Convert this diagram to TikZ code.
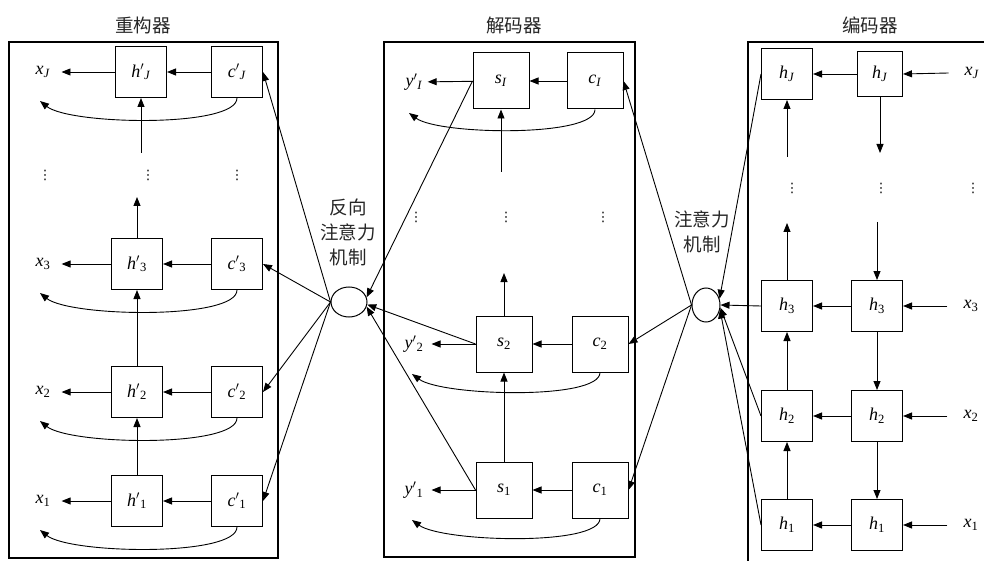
\documentclass[tikz,border=0pt]{standalone}
\usepackage{fontspec}
\setmainfont{Liberation Serif}
\newfontfamily\cjk{Noto Sans CJK SC}
\newfontfamily\dejavu{DejaVu Sans}
\usetikzlibrary{arrows.meta,shapes.geometric,calc}
\newcommand\mylab[2]{\textit{#1}\textsubscript{#2}}
\newcommand\mylabp[2]{\textit{#1}$'$\textsubscript{#2}}
\begin{document}
\begin{tikzpicture}[x=1pt,y=-1pt,
  every node/.style={font=\fontsize{18}{24}\selectfont},
  box/.style={draw, line width=1pt, minimum size=51pt, inner sep=0pt},
  bigbox/.style={box, minimum size=56pt},
  smallbox/.style={box, minimum size=45pt},
  lbl/.style={inner ysep=0pt, inner xsep=#1},
  arr/.style={line width=0.9pt, -{Triangle[length=9pt,width=7pt]}},
  panel/.style={line width=1.2pt},
  circ/.style={draw, ellipse, line width=1pt, inner sep=0pt},
  dots/.style={font=\dejavu\fontsize{13}{13}\selectfont, inner sep=0pt},
  ttl/.style={font=\cjk\fontsize{18.5}{25}\selectfont, text=black!85},
]
\useasboundingbox (0,0) rectangle (984,561);
% panels
\draw[panel] (9,42) rectangle (278,558);
\draw[panel] (384,42) rectangle (635,557);
\draw[panel] (748,565) -- (748,42) -- (990,42);
% titles
\node[ttl] (T1) at (143,25) {重构器};
\node[ttl] (T2) at (514,25) {解码器};
\node[ttl] (T3) at (870,25) {编码器};
\node[ttl, align=center] (A1) at (348,232) {反向\\注意力\\机制};
\node[ttl, align=center] (A2) at (702,232) {注意力\\机制};

% ---------- reconstructor ----------
\node[box] (hpJ) at (141,72) {\mylabp{h}{\textit{J}}};
\node[box] (cpJ) at (237,72) {\mylabp{c}{\textit{J}}};
\node[box] (hp3) at (137,264) {\mylabp{h}{3}};
\node[box] (cp3) at (237,264) {\mylabp{c}{3}};
\node[box] (hp2) at (137,392) {\mylabp{h}{2}};
\node[box] (cp2) at (237,392) {\mylabp{c}{2}};
\node[box] (hp1) at (137,501) {\mylabp{h}{1}};
\node[box] (cp1) at (237,501) {\mylabp{c}{1}};
\node[lbl=11pt] (xJ) at (43,72) {\mylab{x}{\textit{J}}};
\node[lbl=11pt] (x3) at (43,264) {\mylab{x}{3}};
\node[lbl=11pt] (x2) at (43,392) {\mylab{x}{2}};
\node[lbl=11pt] (x1) at (43,501) {\mylab{x}{1}};
\foreach \r in {J,3,2,1}{
  \draw[arr] (cp\r) -- (hp\r);
  \draw[arr] (hp\r) -- (x\r);
}
\draw[arr] (hp1) -- (hp2);
\draw[arr] (hp2) -- (hp3);
\coordinate (hp3t) at (137,197);
\draw[arr] (hp3) -- (hp3t);
\coordinate (hpJb) at (141,153);
\draw[arr] (hpJb) -- (hpJ);
\node[dots] (dL1) at (45,175) {⋮};
\node[dots] (dL2) at (148,175) {⋮};
\node[dots] (dL3) at (237,175) {⋮};
\coordinate (tJ) at (40,101);
\coordinate (t3) at (40,293);
\coordinate (t2) at (40,421);
\coordinate (t1) at (40,530);
\foreach \r in {J,3,2,1}{
  \draw[arr] (cp\r.south) .. controls +(0,30) and +(30,24) .. (t\r);
}

% ---------- decoder ----------
\node[bigbox] (sI) at (501,81) {\mylab{s}{\textit{I}}};
\node[bigbox] (cI) at (595,81) {\mylab{c}{\textit{I}}};
\node[bigbox] (s2) at (504,344) {\mylab{s}{2}};
\node[bigbox] (c2) at (600,344) {\mylab{c}{2}};
\node[bigbox] (s1) at (504,490) {\mylab{s}{1}};
\node[bigbox] (c1) at (600,490) {\mylab{c}{1}};
\node[lbl=5pt] (yI) at (414,82) {\mylabp{y}{\textit{I}}};
\node[lbl=8pt] (y2) at (414,344) {\mylabp{y}{2}};
\node[lbl=8pt] (y1) at (414,490) {\mylabp{y}{1}};
\foreach \r in {I,2,1}{
  \draw[arr] (c\r) -- (s\r);
  \draw[arr] (s\r) -- (y\r);
}
\draw[arr] (s1) -- (s2);
\coordinate (s2t) at (504,273);
\draw[arr] (s2) -- (s2t);
\coordinate (sIb) at (501,172);
\draw[arr] (sIb) -- (sI);
\node[dots] (dM1) at (416,217) {⋮};
\node[dots] (dM2) at (506,217) {⋮};
\node[dots] (dM3) at (603,217) {⋮};
\coordinate (uI) at (409,113);
\coordinate (u2) at (412,374);
\coordinate (u1) at (412,520);
\foreach \r in {I,2,1}{
  \draw[arr] (c\r.south) .. controls +(0,28) and +(30,22) .. (u\r);
}

% ---------- encoder ----------
\node[box] (hlJ) at (787,74) {\mylab{h}{\textit{J}}};
\node[smallbox] (hrJ) at (880,74) {\mylab{h}{\textit{J}}};
\node[box] (hl3) at (787,306) {\mylab{h}{3}};
\node[box] (hr3) at (877,306) {\mylab{h}{3}};
\node[box] (hl2) at (787,416) {\mylab{h}{2}};
\node[box] (hr2) at (877,416) {\mylab{h}{2}};
\node[box] (hl1) at (787,525) {\mylab{h}{1}};
\node[box] (hr1) at (877,525) {\mylab{h}{1}};
\node[lbl=16pt] (xrJ) at (972,73) {\mylab{x}{\textit{J}}};
\node[lbl=16pt] (xr3) at (971,306) {\mylab{x}{3}};
\node[lbl=16pt] (xr2) at (971,416) {\mylab{x}{2}};
\node[lbl=16pt] (xr1) at (971,525) {\mylab{x}{1}};
\draw[arr] (xrJ.west) -- (hrJ.east);
\foreach \r in {J,3,2,1}{
  \draw[arr] (hr\r) -- (hl\r);
}
\foreach \r in {3,2,1}{
  \draw[arr] (xr\r) -- (hr\r);
}
\draw[arr] (hl1) -- (hl2);
\draw[arr] (hl2) -- (hl3);
\coordinate (hl3t) at (787,223);
\draw[arr] (hl3) -- (hl3t);
\coordinate (hlJb) at (787,157);
\draw[arr] (hlJb) -- (hlJ);
\coordinate (hrJb) at (880,153);
\draw[arr] (hrJ) -- (hrJb);
\coordinate (hr3t) at (877,222);
\draw[arr] (hr3t) -- (hr3);
\draw[arr] (hr3) -- (hr2);
\draw[arr] (hr2) -- (hr1);
\node[dots] (dR1) at (792,188) {⋮};
\node[dots] (dR2) at (881,188) {⋮};
\node[dots] (dR3) at (973,188) {⋮};

% ---------- attention circles ----------
\node[circ, minimum width=36pt, minimum height=30pt] (lc) at (349,302) {};
\node[circ, minimum width=28pt, minimum height=34pt] (rc) at (706,305) {};
\foreach \r in {J,3,2,1}{
  \draw[arr] (lc.west) -- (cp\r.east);
}
\draw[arr] (sI.west) -- (lc.15);
\draw[arr] (s2.west) -- (lc.-8);
\draw[arr] (s1.west) -- (lc.-15);
\foreach \r in {I,2,1}{
  \draw[arr] (rc.west) -- (c\r.east);
}
\draw[arr] (hlJ.west) -- (rc.25);
\draw[arr] (hl3.west) -- (rc.0);
\draw[arr] (hl2.west) -- (rc.-10);
\draw[arr] (hl1.west) -- (rc.-18);
\end{tikzpicture}
\end{document}
